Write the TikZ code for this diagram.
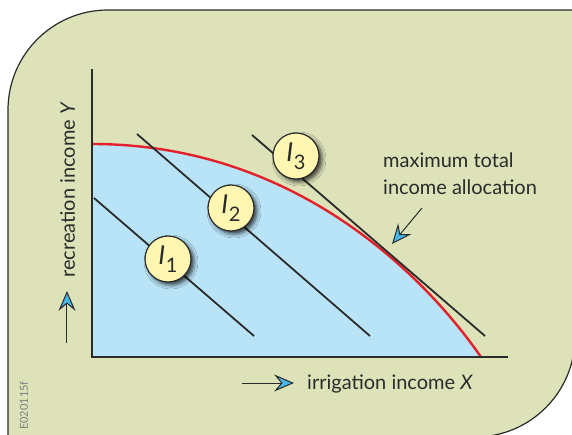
\documentclass[tikz,border=0pt]{standalone}
\usepackage{fontspec}
\setmainfont{Lato}
\usetikzlibrary{arrows.meta,positioning,shadows.blur}
\definecolor{Sage}{HTML}{DDE2B8}
\definecolor{Sky}{HTML}{B9E4F8}
\definecolor{Cue}{HTML}{45B6E6}
\definecolor{Curve}{HTML}{E4202A}
\definecolor{Cream}{HTML}{FFF6B2}
\definecolor{Ink}{HTML}{2B2B2B}
\newcommand{\isub}[1]{\textit{I}\kern0.5pt\raisebox{-8pt}{\fontsize{20}{20}\selectfont #1}}

\begin{document}
\begin{tikzpicture}[x=1pt,y=1pt,
    lbl/.style={font=\fontsize{20}{27}\selectfont,text=Ink,inner sep=0pt},
    cue/.style={line width=1pt,Ink,-{Stealth[length=0.7cm,width=0.6cm,inset=0.25cm,fill=Cue]}},
    iso/.style={line width=1.8pt,Ink},
    tag/.style={circle,draw=Ink,line width=1.2pt,fill=Cream,minimum size=46pt,inner sep=0pt,
      font=\fontsize{26}{26}\selectfont,text=Ink,
      blur shadow={shadow xshift=3pt,shadow yshift=-3pt,shadow blur radius=4pt,shadow opacity=75}}
  ]
  \useasboundingbox (-92,-77) rectangle (480,357);
  % panel
  \draw[fill=Sage,draw=Ink,line width=1.2pt] (-84,-80) -- (-84,247)
    arc[start angle=180,end angle=90,radius=100] -- (483,347) -- (483,20)
    arc[start angle=0,end angle=-90,radius=100] -- cycle;
  % frontier
  \coordinate (O) at (0,0);
  \fill[Sky] (O) -- (0,213) .. controls (200,213) and (330,85) .. (389,0) -- cycle;
  \draw[Curve,line width=2.4pt] (0,213) .. controls (200,213) and (330,85) .. (389,0);
  % iso-income lines
  \foreach \sx/\sy/\ex in {2/159/162,45/223/278,160/222/393}
    \draw[iso] (\sx,\sy) -- (\ex,21);
  \foreach \n/\p in {1/{76,98},2/{139,149},3/{204,201}}
    \node[tag] (i\n) at (\p) {\isub{\n}};
  % axes
  \draw[line width=2.6pt,Ink] (0,288) -- (O) -- (416,0);
  \node[lbl,anchor=base west] (xlab) at (215,-32) {irrigation income \textit{X}};
  \node[lbl,anchor=base west,rotate=90] (ylab) at (-17,79) {recreation income \textit{Y}};
  \coordinate (xtail) at (150,-26);
  \coordinate (xhead) at (202,-26);
  \coordinate (ytail) at (-25,14);
  \coordinate (yhead) at (-25,66);
  \draw[cue] (xtail) -- (xhead);
  \draw[cue] (ytail) -- (yhead);
  % annotation
  \node[lbl,anchor=north west,align=left] (note) at (291,204) {maximum total\\income allocation};
  \coordinate (tail) at (330,149);
  \coordinate (touch) at (300,113);
  \draw[cue] (tail) -- (touch);
  \node[font=\fontsize{11}{11}\selectfont,text=gray,rotate=90,anchor=base west,inner sep=0pt]
    (code) at (-64,-73) {E020115f};
\end{tikzpicture}
\end{document}
